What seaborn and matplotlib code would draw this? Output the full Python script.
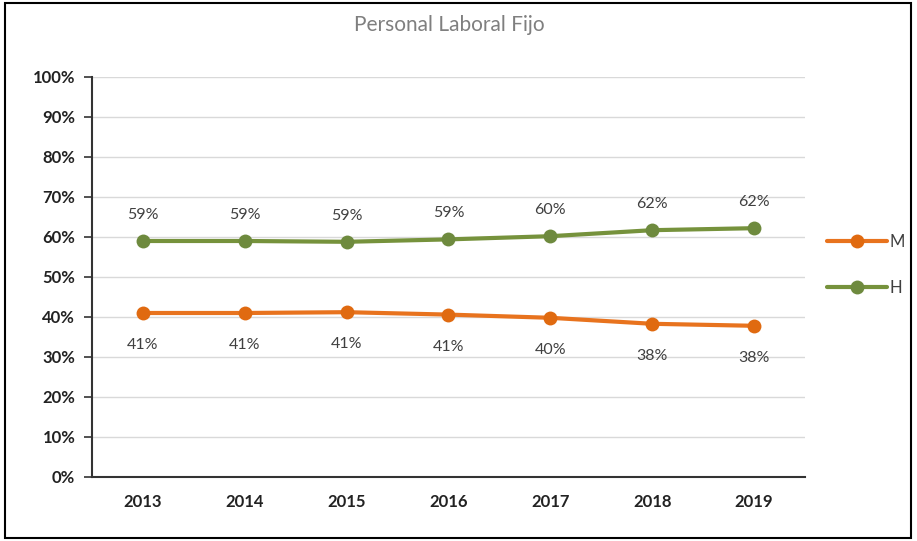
import matplotlib
matplotlib.use("Agg")
import matplotlib.pyplot as plt
import seaborn as sns
import pandas as pd
from matplotlib.patches import Rectangle
from matplotlib.lines import Line2D

years = ["2013", "2014", "2015", "2016", "2017", "2018", "2019"]
m_values = [41.0, 41.0, 41.2, 40.6, 39.8, 38.3, 37.8]
h_values = [59.0, 59.0, 58.8, 59.4, 60.2, 61.7, 62.2]
m_labels = ["41%", "41%", "41%", "41%", "40%", "38%", "38%"]
h_labels = ["59%", "59%", "59%", "59%", "60%", "62%", "62%"]
series_names = ["M", "H"]
y_ticks = [0, 10, 20, 30, 40, 50, 60, 70, 80, 90, 100]

df = pd.DataFrame({
    "year": years * 2,
    "value": m_values + h_values,
    "serie": [series_names[0]] * len(years) + [series_names[1]] * len(years),
})
df["x"] = df["year"].map({y: i for i, y in enumerate(years)})

sns.set_theme(style="white")
plt.rcParams["font.family"] = ["Lato", "DejaVu Sans"]

palette = {"M": "#E8731E", "H": "#76923C"}
marker_colors = {"M": "#E06A10", "H": "#6E8A3E"}

fig = plt.figure(figsize=(9.17, 5.41), dpi=100)
ax = fig.add_axes([0.1003, 0.1183, 0.7775, 0.7394])

sns.lineplot(data=df, x="x", y="value", hue="serie", palette=palette,
             linewidth=3, marker="o", markersize=10, markeredgewidth=0,
             ax=ax, legend=False, sort=False)
for line, s in zip(ax.lines, series_names):
    line.set_markerfacecolor(marker_colors[s])

ax.set_xlim(-0.5, len(years) - 0.5)
ax.set_ylim(0, 100)
ax.set_yticks(y_ticks)
ax.set_yticklabels([f"{v}%" for v in y_ticks], fontsize=12, fontweight="bold", color="#222222")
ax.set_xticks(range(len(years)))
ax.set_xticklabels(years, fontsize=12, fontweight="bold", color="#222222")
ax.set_xticks([i - 0.5 for i in range(len(years) + 1)], minor=True)
ax.tick_params(axis="x", which="major", length=0, pad=12)
ax.tick_params(axis="x", which="minor", length=6, width=1.2, color="#333333", direction="out")
ax.tick_params(axis="y", which="major", length=6, width=1.2, color="#333333", direction="out", pad=6, left=True)
ax.set_xlabel("")
ax.set_ylabel("")
ax.grid(axis="y", color="#D9D9D9", linewidth=1)
ax.set_axisbelow(True)
for side in ["top", "right"]:
    ax.spines[side].set_visible(False)
for side in ["left", "bottom"]:
    ax.spines[side].set_color("#333333")
    ax.spines[side].set_linewidth(1.5)

for i, (v, t) in enumerate(zip(h_values, h_labels)):
    ax.annotate(t, (i, v), xytext=(0, 26), textcoords="offset pixels",
                ha="center", va="center", fontsize=11.5, color="#404040")
for i, (v, t) in enumerate(zip(m_values, m_labels)):
    ax.annotate(t, (i, v), xytext=(0, -32), textcoords="offset pixels",
                ha="center", va="center", fontsize=11.5, color="#404040")

fig.text(0.49, 0.953, "Personal Laboral Fijo", ha="center", va="center",
         fontsize=15, color="#7F7F7F")

handles = [Line2D([0], [0], color=palette[s], linewidth=3, marker="o", markersize=10,
                  markerfacecolor=marker_colors[s], markeredgewidth=0) for s in series_names]
fig.legend(handles, series_names, loc="center left", bbox_to_anchor=(0.885, 0.51),
           frameon=False, fontsize=12, handlelength=3.6, labelspacing=1.8,
           handletextpad=0.2, labelcolor="#404040")

fig.patches.append(Rectangle((0.005, 0.006), 0.989, 0.988, transform=fig.transFigure,
                             fill=False, edgecolor="black", linewidth=1.5))

fig.savefig("out.png", dpi=100)
